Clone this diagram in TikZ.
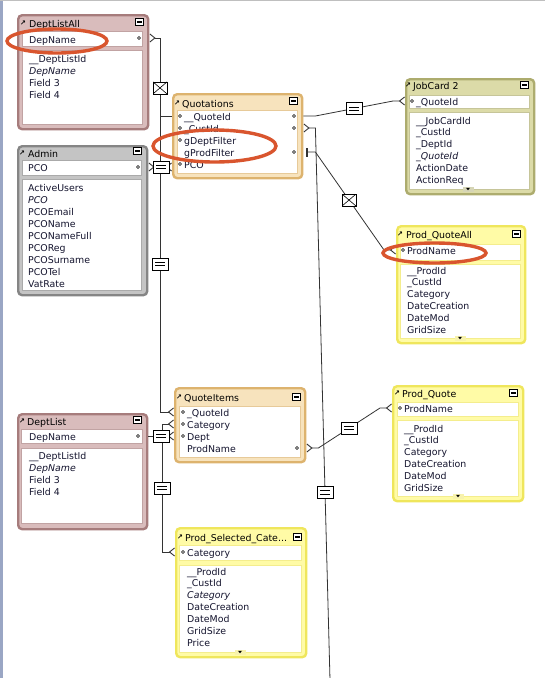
\documentclass[tikz,border=0pt]{standalone}
\usepackage{fontspec}
\setmainfont{DejaVu Sans}
\usetikzlibrary{arrows.meta, calc, shapes.geometric}

\definecolor{roseFrame}{HTML}{A67C7C}
\definecolor{roseFill}{HTML}{D9BCBC}
\definecolor{grayFrame}{HTML}{858585}
\definecolor{grayFill}{HTML}{C4C4C4}
\definecolor{tanFrame}{HTML}{DDB36E}
\definecolor{tanFill}{HTML}{F7E3BD}
\definecolor{oliveFrame}{HTML}{ADAC6E}
\definecolor{oliveFill}{HTML}{DCDBA8}
\definecolor{yellowFrame}{HTML}{EFE65C}
\definecolor{yellowFill}{HTML}{FFFBA6}
\definecolor{ringRed}{HTML}{D9552E}
\definecolor{lineInk}{HTML}{333333}
\definecolor{fieldInk}{HTML}{14142E}
\definecolor{edgeBlue}{HTML}{9AA6C4}

\begin{document}
\begin{tikzpicture}[
		x=1pt, y=-1pt,
		font=\fontsize{9.4}{11}\selectfont,
		% Table occurrence frames
		tbl/.style={draw=#1Frame, fill=#1Fill, line width=2.4pt, rounded corners=4pt, anchor=north west, inner sep=0pt},
		wbox/.style={draw=#1Frame!70, fill=white, line width=0.6pt, anchor=north west, inner sep=0pt},
		% Texts and small icons
		ttl/.style={anchor=base west, inner sep=0pt, text=black},
		fld/.style={anchor=base west, inner sep=0pt, text=fieldInk},
		linkicon/.style={inner sep=0pt, font=\fontsize{7}{7}\bfseries\selectfont, text=black},
		keydot/.style={circle, draw=black, line width=0.5pt, fill=white, minimum size=3pt, inner sep=0pt},
		minbtn/.style={draw=black, fill=white, line width=0.8pt, minimum width=8pt, minimum height=6.5pt, inner sep=0pt,
			path picture={\fill[black] ([shift={(-2.5pt,-0.6pt)}]path picture bounding box.center) rectangle ++(5pt,1.2pt);}},
		scrolltab/.style={fill=#1Frame!50, minimum width=11pt, minimum height=5pt, inner sep=0pt,
			path picture={\fill[black] ([shift={(-2pt,1.2pt)}]path picture bounding box.center) -- ++(4pt,0pt) -- ++(-2pt,-2.5pt) -- cycle;}},
		% Relationship lines and operator boxes
		crow/.tip={Straight Barb[reversed, length=5pt, width=8pt, line width=0.9pt]},
		tick/.tip={Bar[width=9pt, line width=1.2pt]},
		rel/.style={draw=lineInk, line width=0.8pt},
		opline/.style={-, draw=black, line width=0.6pt, shorten <=0pt, shorten >=0pt},
		releq/.style={draw=black, fill=white, line width=0.6pt, minimum width=16pt, minimum height=12pt, inner sep=0pt,
			path picture={
				\draw[opline] ([shift={(-5pt,1.6pt)}]path picture bounding box.center) -- ++(10pt,0pt);
				\draw[opline] ([shift={(-5pt,-1.6pt)}]path picture bounding box.center) -- ++(10pt,0pt);}},
		relx/.style={draw=black, fill=white, line width=0.6pt, minimum width=14pt, minimum height=12pt, inner sep=0pt,
			path picture={
				\draw[opline] (path picture bounding box.south west) -- (path picture bounding box.north east);
				\draw[opline] (path picture bounding box.north west) -- (path picture bounding box.south east);}},
		% Red highlight rings
		ring/.style={ellipse, draw=ringRed, line width=3.4pt, inner sep=0pt}
		]

	\useasboundingbox (0,0) rectangle (545,678);
	\fill[white] (0,0) rectangle (545,678);
	\fill[edgeBlue] (0,0) rectangle (2.5,678);
	\draw[gray!50, line width=0.8pt] (0,0.4) -- (545,0.4);

	% ==============================================================================
	% LEFT COLUMN
	% ==============================================================================
	% DeptListAll
	\node[tbl=rose, minimum width=130, minimum height=114] (DLA) at (17,14) {};
	\node[linkicon] (DLA-ic) at (23,23) {↗};
	\node[ttl] (DLA-t) at (29,27) {DeptListAll};
	\node[minbtn] (DLA-mb) at (139,22) {};
	\node[wbox=rose, minimum width=120, minimum height=15] (DLA-k) at (22,31) {};
	\node[fld] (DLA-kt) at (29,43) {DepName};
	\node[keydot] (DLA-kd) at (139,38) {};
	\node[wbox=rose, minimum width=120, minimum height=74] (DLA-fb) at (22,50) {};
	\foreach \f [count=\i from 0] in {\_\_DeptListId, \textit{DepName}, Field 3, Field 4}
		\node[fld] (DLA-f\i) at (29,62+12*\i) {\f};

	% Admin
	\node[tbl=gray, minimum width=129, minimum height=149] (ADM) at (17,145) {};
	\node[linkicon] (ADM-ic) at (22,153) {↗};
	\node[ttl] (ADM-t) at (28,157) {Admin};
	\node[minbtn] (ADM-mb) at (137,151) {};
	\node[wbox=gray, minimum width=119, minimum height=15] (ADM-k) at (22,160) {};
	\node[fld] (ADM-kt) at (28,171) {PCO};
	\node[keydot] (ADM-kd) at (138,167) {};
	\node[wbox=gray, minimum width=119, minimum height=111] (ADM-fb) at (22,179) {};
	\foreach \f [count=\i from 0] in {ActiveUsers, \textit{PCO}, PCOEmail, PCOName, PCONameFull, PCOReg, PCOSurname, PCOTel, VatRate}
		\node[fld] (ADM-f\i) at (28,191+12*\i) {\f};

	% DeptList
	\node[tbl=rose, minimum width=129, minimum height=115] (DL) at (17,413) {};
	\node[linkicon] (DL-ic) at (22,421) {↗};
	\node[ttl] (DL-t) at (27,425) {DeptList};
	\node[minbtn] (DL-mb) at (137,420) {};
	\node[wbox=rose, minimum width=121, minimum height=14] (DL-k) at (21,429) {};
	\node[fld] (DL-kt) at (29,440) {DepName};
	\node[keydot] (DL-kd) at (138,436) {};
	\node[wbox=rose, minimum width=121, minimum height=75] (DL-fb) at (21,448) {};
	\foreach \f [count=\i from 0] in {\_\_DeptListId, \textit{DepName}, Field 3, Field 4}
		\node[fld] (DL-f\i) at (29,459+12*\i) {\f};

	% ==============================================================================
	% MIDDLE COLUMN
	% ==============================================================================
	% Quotations
	\node[tbl=tan, minimum width=129, minimum height=84] (QUO) at (172,93) {};
	\node[linkicon] (QUO-ic) at (177,103) {↗};
	\node[ttl] (QUO-t) at (182,107) {Quotations};
	\node[minbtn] (QUO-mb) at (293,101) {};
	\node[wbox=tan, minimum width=120, minimum height=63] (QUO-fb) at (177,110) {};
	\foreach \f [count=\i from 0] in {\_\_QuoteId, \_CustId, gDeptFilter, gProdFilter, PCO}
		\node[fld] (QUO-f\i) at (184,120+12*\i) {\f};
	\foreach \i in {0,1,2,4}
		\node[keydot] (QUO-l\i) at (180,116+12*\i) {};
	\foreach \i in {0,1,3}
		\node[keydot] (QUO-r\i) at (294,116+12*\i) {};

	% QuoteItems
	\node[tbl=tan, minimum width=130, minimum height=74] (QI) at (174,387) {};
	\node[linkicon] (QI-ic) at (179,397) {↗};
	\node[ttl] (QI-t) at (184,401) {QuoteItems};
	\node[minbtn] (QI-mb) at (296,397) {};
	\node[wbox=tan, minimum width=121, minimum height=51] (QI-fb) at (179,406) {};
	\foreach \f [count=\i from 0] in {\_QuoteId, Category, Dept, ProdName}
		\node[fld] (QI-f\i) at (187,416+12*\i) {\f};
	\foreach \i in {0,1,2}
		\node[keydot] (QI-l\i) at (183,412+12*\i) {};
	\node[keydot] (QI-r3) at (297,448) {};

	% Prod_Selected_Cate...
	\node[tbl=yellow, minimum width=130, minimum height=129] (PSC) at (175,527) {};
	\node[linkicon] (PSC-ic) at (180,537) {↗};
	\node[ttl] (PSC-t) at (185,541) {Prod\_Selected\_Cate...};
	\node[minbtn] (PSC-mb) at (297,537) {};
	\node[wbox=yellow, minimum width=122, minimum height=15] (PSC-k) at (179,545) {};
	\node[fld] (PSC-kt) at (187,556) {Category};
	\node[keydot] (PSC-kd) at (183,552) {};
	\node[wbox=yellow, minimum width=122, minimum height=87] (PSC-fb) at (179,565) {};
	\foreach \f [count=\i from 0] in {\_\_ProdId, \_CustId, \textit{Category}, DateCreation, DateMod, GridSize, Price}
		\node[fld] (PSC-f\i) at (187,575+11.9*\i) {\f};
	\node[scrolltab=yellow] (PSC-sc) at (240,652) {};

	% ==============================================================================
	% RIGHT COLUMN
	% ==============================================================================
	% JobCard 2
	\node[tbl=olive, minimum width=128, minimum height=115] (JC) at (405,78) {};
	\node[linkicon] (JC-ic) at (408,85) {↗};
	\node[ttl] (JC-t) at (413,89) {JobCard 2};
	\node[minbtn] (JC-mb) at (524,85) {};
	\node[wbox=olive, minimum width=120, minimum height=13] (JC-k) at (409,95) {};
	\node[fld] (JC-kt) at (416,105) {\_QuoteId};
	\node[keydot] (JC-kd) at (412,101) {};
	\node[wbox=olive, minimum width=120, minimum height=77] (JC-fb) at (409,112) {};
	\foreach \f [count=\i from 0] in {\_\_JobCardId, \_CustId, \_DeptId, \textit{\_QuoteId}, ActionDate, ActionReq}
		\node[fld] (JC-f\i) at (416,124+11.8*\i) {\f};
	\node[scrolltab=olive] (JC-sc) at (468,189) {};

	% Prod_QuoteAll
	\node[tbl=yellow, minimum width=128, minimum height=117] (PQA) at (396,225) {};
	\node[linkicon] (PQA-ic) at (400,234) {↗};
	\node[ttl] (PQA-t) at (406,238) {Prod\_QuoteAll};
	\node[minbtn] (PQA-mb) at (516,234) {};
	\node[wbox=yellow, minimum width=120, minimum height=16] (PQA-k) at (400,244) {};
	\node[fld] (PQA-kt) at (407,254) {ProdName};
	\node[keydot] (PQA-kd) at (403,250) {};
	\node[wbox=yellow, minimum width=120, minimum height=74] (PQA-fb) at (400,264) {};
	\foreach \f [count=\i from 0] in {\_\_ProdId, \_CustId, Category, DateCreation, DateMod, GridSize}
		\node[fld] (PQA-f\i) at (407,274+11.8*\i) {\f};
	\node[scrolltab=yellow] (PQA-sc) at (460,338) {};

	% Prod_Quote
	\node[tbl=yellow, minimum width=130, minimum height=115] (PQ) at (392,385) {};
	\node[linkicon] (PQ-ic) at (397,393) {↗};
	\node[ttl] (PQ-t) at (402,397) {Prod\_Quote};
	\node[minbtn] (PQ-mb) at (513,393) {};
	\node[wbox=yellow, minimum width=121, minimum height=14] (PQ-k) at (397,402) {};
	\node[fld] (PQ-kt) at (404,412) {ProdName};
	\node[keydot] (PQ-kd) at (400,408) {};
	\node[wbox=yellow, minimum width=121, minimum height=76] (PQ-fb) at (397,420) {};
	\foreach \f [count=\i from 0] in {\_\_ProdId, \_CustId, Category, DateCreation, DateMod, GridSize}
		\node[fld] (PQ-f\i) at (404,432+11.8*\i) {\f};
	\node[scrolltab=yellow] (PQ-sc) at (458,496) {};

	% ==============================================================================
	% RELATIONSHIPS
	% ==============================================================================
	\coordinate (busL) at (160,0);
	\coordinate (busL2) at (162,0);
	\coordinate (custEnd) at (330,680);

	\draw[rel, crow-] (DLA.east |- DLA-kd) -- (DLA-kd -| busL)
		-- node[relx, pos=0.64] (x1) {} (busL |- QUO-l0) -- (QUO.west |- QUO-l0);
	\draw[rel, -crow] (QUO.west |- QUO-l0) -- (busL |- QUO-l0)
		-- node[releq, pos=0.5] (e2) {} (busL |- QI-l0) -- (QI.west |- QI-l0);
	\draw[rel, crow-crow] (ADM.east |- ADM-kd) -- node[releq, pos=0.54] (e3) {} (QUO.west |- ADM-kd);
	\draw[rel, crow-crow] (QI.west |- QI-l1) -- (busL2 |- QI-l1)
		-- node[releq, pos=0.5] (e4) {} (busL2 |- PSC-kd) -- (PSC.west |- PSC-kd);
	\draw[rel, -crow] (DL.east |- DL-kd) -- node[releq, pos=0.5] (e5) {} (QI.west |- DL-kd);

	\draw[rel, -crow] (QUO.east |- QUO-r0) -- ++(12,0)
		-- node[releq, pos=0.5] (e6) {} ($(JC.west |- JC-kd)+(-12,0)$) -- (JC.west |- JC-kd);
	\draw[rel, crow-] (QUO.east |- QUO-r1) -- ++(12,0)
		-- node[releq, pos=0.66] (e7) {} (custEnd);
	\draw[rel, tick-crow, shorten <=3pt] (QUO.east |- QUO-r3) -- ++(12,0)
		-- node[relx, pos=0.49] (x8) {} ($(PQA.west |- PQA-kd)+(-12,0)$) -- (PQA.west |- PQA-kd);
	\draw[rel, crow-crow] (QI.east |- QI-r3) -- ++(12,0)
		-- node[releq, pos=0.5] (e9) {} ($(PQ.west |- PQ-kd)+(-12,0)$) -- (PQ.west |- PQ-kd);

	% Highlight rings
	\node[ring, minimum width=100, minimum height=24] (ringDep) at (57,41) {};
	\node[ring, minimum width=123, minimum height=32] (ringFilter) at (214.5,146) {};
	\node[ring, minimum width=103, minimum height=20] (ringProd) at (434.5,253) {};
\end{tikzpicture}
\end{document}
